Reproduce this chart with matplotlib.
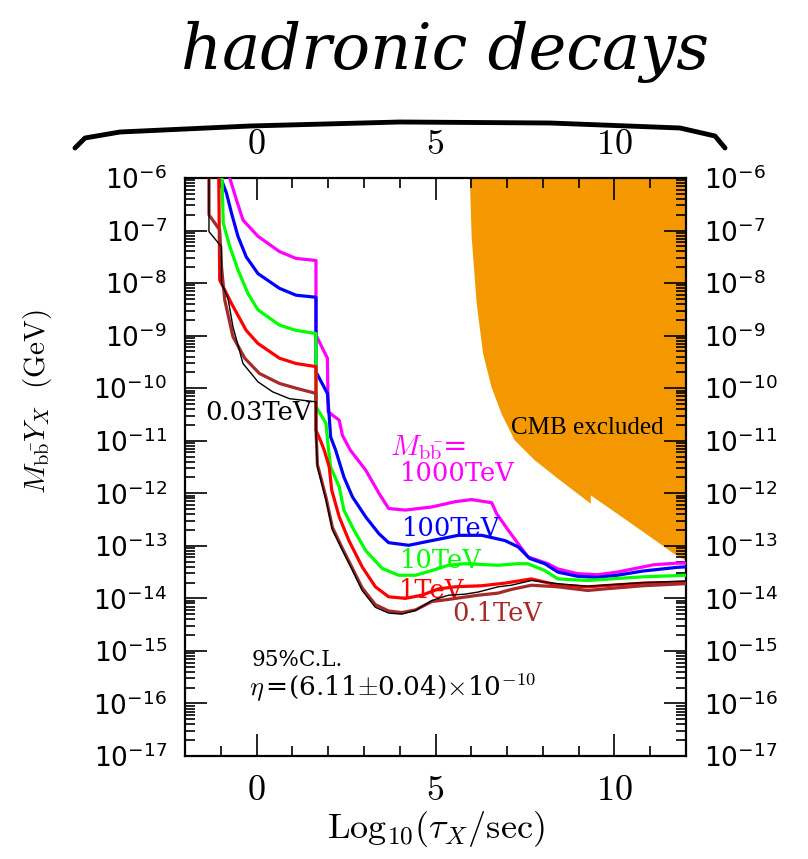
import numpy as np
import matplotlib
matplotlib.use("Agg")
import matplotlib.pyplot as plt
from matplotlib import ticker
from matplotlib.lines import Line2D

plt.rcParams['mathtext.fontset'] = 'cm'
plt.rcParams['font.family'] = ['DejaVu Sans']

# curves: log10(tau/sec) vs log10(M_bb Y_X / GeV)
x_003 = [-1.33, -1.33, -0.98, -0.98, -0.80, -0.66, -0.38, 0.04, 0.45, 0.92, 1.66, 1.66, 1.70, 1.94, 2.12,
         2.40, 2.68, 2.95, 3.32, 3.69, 4.06, 4.44, 4.90, 5.36, 5.82, 6.19, 6.75, 7.12, 7.68, 8.05, 8.42,
         9.25, 9.90, 10.80, 12.0]
y_003 = [-5.0, -7.02, -7.31, -8.00, -8.29, -8.83, -9.53, -9.88, -10.07, -10.20, -10.26, -10.80, -11.50,
         -12.13, -12.70, -13.09, -13.47, -13.85, -14.17, -14.28, -14.30, -14.23, -14.04, -13.94, -13.92,
         -13.88, -13.78, -13.75, -13.66, -13.69, -13.72, -13.77, -13.74, -13.70, -13.67]

x_01 = [-1.33, -1.33, -1.03, -0.98, -0.89, -0.66, -0.33, 0.08, 0.64, 1.10, 1.66, 1.66, 1.70, 1.94, 2.12,
        2.40, 2.68, 2.95, 3.32, 3.69, 4.06, 4.44, 4.90, 5.36, 6.19, 6.75, 7.12, 7.68, 8.42, 9.25, 9.90,
        10.80, 12.0]
y_01 = [-5.0, -6.70, -6.99, -7.69, -8.32, -9.02, -9.43, -9.72, -9.91, -10.00, -10.10, -10.80, -11.45,
        -12.08, -12.65, -13.05, -13.43, -13.80, -14.12, -14.24, -14.27, -14.22, -14.06, -14.02, -13.94,
        -13.90, -13.83, -13.75, -13.78, -13.85, -13.81, -13.76, -13.72]

x_1 = [-1.07, -1.03, -0.70, -0.29, 0.04, 0.64, 1.10, 1.66, 1.66, 1.80, 1.89, 2.03, 2.10, 2.31, 2.58,
       2.95, 3.32, 3.69, 4.16, 4.62, 5.08, 5.55, 6.29, 6.94, 7.68, 8.42, 9.25, 9.90, 10.80, 12.0]
y_1 = [-5.0, -7.94, -8.39, -8.90, -9.15, -9.43, -9.53, -9.59, -10.80, -11.02, -11.18, -11.50, -11.94,
       -12.45, -12.90, -13.40, -13.78, -13.97, -14.00, -13.94, -13.82, -13.78, -13.76, -13.71, -13.63,
       -13.75, -13.78, -13.75, -13.71, -13.69]

x_10 = [-1.01, -0.93, -0.75, -0.52, -0.24, 0.04, 0.64, 1.10, 1.66, 1.66, 1.94, 2.00, 2.07, 2.31,
        2.44, 2.72, 3.05, 3.51, 3.97, 4.44, 4.90, 5.36, 5.82, 6.75, 7.31, 7.58, 8.05, 8.42, 9.25, 9.90,
        10.80, 12.0]
y_10 = [-5.0, -6.86, -7.30, -7.75, -8.20, -8.51, -8.80, -8.90, -8.96, -10.35, -10.67, -11.10, -11.50,
        -11.88, -12.32, -12.70, -13.09, -13.43, -13.56, -13.56, -13.47, -13.37, -13.34, -13.37, -13.34,
        -13.34, -13.47, -13.63, -13.66, -13.63, -13.59, -13.56]

x_100 = [-1.0, -1.0, -0.84, -0.70, -0.52, -0.29, 0.04, 0.64, 1.10, 1.66, 1.66, 1.98, 2.03, 2.07, 2.21,
         2.44, 2.68, 3.05, 3.42, 3.69, 4.25, 4.90, 5.64, 6.29, 6.94, 7.31, 7.63, 8.05, 8.42, 8.97,
         9.53, 10.08, 10.80, 11.75, 12.0]
y_100 = [-5.0, -6.0, -6.29, -6.67, -7.11, -7.50, -7.82, -8.10, -8.23, -8.27, -9.69, -10.10, -10.54,
         -10.93, -11.18, -11.69, -12.07, -12.45, -12.77, -12.94, -12.99, -12.90, -12.80, -12.80, -12.90,
         -13.02, -13.24, -13.34, -13.50, -13.58, -13.60, -13.56, -13.48, -13.41, -13.40]

x_1000 = [-0.78, -0.75, -0.56, -0.38, 0.04, 0.64, 1.10, 1.66, 1.66, 1.98, 2.00, 2.31, 2.40, 2.62, 3.05,
          3.42, 3.69, 4.16, 4.90, 5.55, 6.01, 6.57, 6.71, 7.03, 7.31, 7.58, 8.14, 8.42, 8.97, 9.53,
          10.08, 11.10, 11.75, 12.0]
y_1000 = [-5.0, -6.0, -6.42, -6.80, -7.11, -7.40, -7.53, -7.57, -8.99, -9.43, -10.45, -10.61, -10.90,
          -11.18, -11.56, -12.00, -12.29, -12.32, -12.26, -12.16, -12.12, -12.18, -12.39, -12.70, -12.96,
          -13.21, -13.34, -13.44, -13.53, -13.55, -13.50, -13.36, -13.33, -13.33]

# CMB excluded region boundary
x_cmb = [5.96, 6.01, 6.15, 6.33, 6.56, 6.84, 7.21, 7.77, 8.42, 9.34, 9.34, 10.27, 11.19, 11.66, 12.0, 12.0]
y_cmb = [-6.0, -7.12, -8.39, -9.34, -9.97, -10.48, -10.99, -11.37, -11.72, -12.20, -12.04, -12.48,
         -12.92, -13.15, -13.28, -6.0]

curves = [
    (x_01, y_01, '#a52a2a', 2.3),
    (x_1, y_1, '#ff0000', 2.3),
    (x_10, y_10, '#00ff00', 2.3),
    (x_100, y_100, '#0000ff', 2.3),
    (x_1000, y_1000, '#ff00ff', 2.3),
]

fig = plt.figure(figsize=(8.08, 8.59), dpi=100)
ax = fig.add_axes([185 / 808, 1 - 756 / 859, 501 / 808, 578 / 859])

ax.fill(x_cmb, 10.0 ** np.array(y_cmb), color='#f39800', lw=0, zorder=1)
for xs, ys, c, lw in curves[::-1]:
    ax.plot(xs, 10.0 ** np.array(ys), color=c, lw=lw, zorder=3)
# thin black 0.03TeV curve on top of the others
ax.plot(x_003, 10.0 ** np.array(y_003), color='black', lw=1.0, zorder=4)

ax.set_yscale('log')
ax.set_xlim(-2, 12)
ax.set_ylim(1e-17, 1e-6)

decades = list(range(-17, -5))
ax.set_yticks([10.0 ** d for d in decades])
ax.set_yticks([m * 10.0 ** d for d in decades[:-1] for m in range(2, 10)], minor=True)
ax.yaxis.set_minor_formatter(ticker.NullFormatter())
ax.yaxis.set_major_formatter(ticker.FuncFormatter(
    lambda v, p: r'$\mathregular{10^{%d}}$' % int(round(np.log10(v)))))
ax.xaxis.set_major_locator(ticker.MultipleLocator(5))
ax.xaxis.set_minor_locator(ticker.MultipleLocator(1))
ax.xaxis.set_major_formatter(ticker.FuncFormatter(lambda v, p: r'$%d$' % int(round(v))))

ax.tick_params(which='both', direction='in', top=True, right=True,
               labeltop=True, labelright=True, width=1.2, colors='black')
ax.tick_params(which='major', length=16)
ax.tick_params(which='minor', length=7)
ax.tick_params(axis='y', labelsize=19, pad=13)
ax.tick_params(axis='x', labelsize=26, pad=12)
for s in ax.spines.values():
    s.set_linewidth(1.6)

ax.set_xlabel(r'$\mathrm{Log}_{10}(\tau_X/\mathrm{sec})$', fontsize=26, labelpad=2)
ax.set_ylabel(r'$M_{\mathrm{b\bar{b}}}Y_X\ \ (\mathrm{GeV})$', fontsize=21)
ax.yaxis.set_label_coords((54 - 185) / 501, (756 - 402) / 578)

lab = dict(family='DejaVu Serif', fontsize=18.5, va='center', ha='left')
ax.text(-1.44, 10 ** -10.46, '0.03TeV', color='black', **lab)
ax.text(3.72, 10 ** -11.12, r'$M_{\mathrm{b\bar{b}}}$=', color='#ff00ff',
        family='DejaVu Serif', fontsize=21, va='center', ha='left')
ax.text(4.0, 10 ** -11.62, '1000TeV', color='#ff00ff', **lab)
ax.text(4.05, 10 ** -12.67, '100TeV', color='#0000ff', **lab)
ax.text(4.0, 10 ** -13.28, '10TeV', color='#00ff00', **lab)
ax.text(3.97, 10 ** -13.85, '1TeV', color='#ff0000', **lab)
ax.text(5.47, 10 ** -14.29, '0.1TeV', color='#a52a2a', **lab)
ax.text(-0.14, 10 ** -15.18, '95%C.L.', color='black', family='DejaVu Serif', fontsize=15.5,
        va='center', ha='left')
ax.text(-0.2, 10 ** -15.71, r'$\eta\,$=(6.11$\pm$0.04)$\times$10$^{-10}$', color='black',
        family='DejaVu Serif', fontsize=19, va='center', ha='left')
ax.text(7.11, 10 ** -10.76, 'CMB excluded', color='black', family='Liberation Serif',
        fontsize=18, va='center', ha='left')

# handwritten note above the plot
fig.text(445 / 808, 1 - 52 / 859, 'hadronic decays', fontsize=46, ha='center', va='center',
         family='DejaVu Serif', style='italic', color='black')
bx = np.array([75, 85, 120, 250, 400, 550, 680, 715, 725]) / 808
by = 1 - np.array([148, 138, 132, 126, 122, 123, 128, 136, 148]) / 859
fig.add_artist(Line2D(bx, by, color='black', lw=3.5, solid_capstyle='round'))

fig.savefig('out.png', dpi=100)
